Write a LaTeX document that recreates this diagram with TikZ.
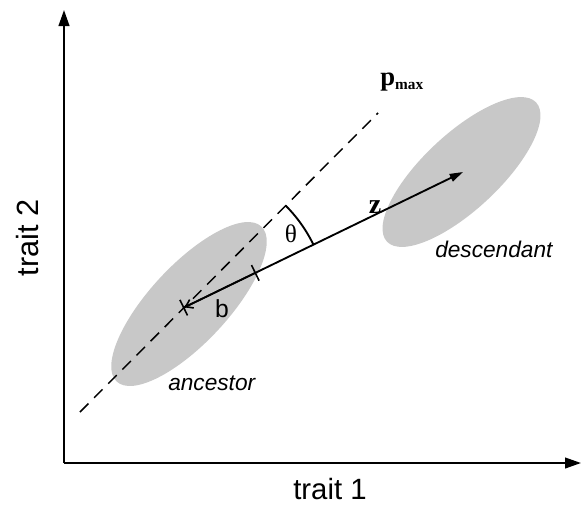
\documentclass[tikz,border=0pt]{standalone}
\usepackage{fontspec}
\setmainfont{Liberation Sans}
\newfontfamily\serifface{Liberation Serif}
\usetikzlibrary{arrows.meta,shapes.geometric}
\definecolor{blob}{RGB}{200,200,200}
\begin{document}
\begin{tikzpicture}[x=0.75pt,y=-0.75pt,
  axis/.style={line width=1.5pt,-{Triangle[length=12pt,width=8pt]}},
  dashline/.style={line width=1.1pt,dash pattern=on 9pt off 6pt},
  vec/.style={line width=1.4pt,-{Triangle[length=10pt,width=6pt]}},
  lab/.style={inner sep=0pt,font=\fontsize{17}{20}\selectfont\itshape},
  blobfill/.style={fill=blob}]
\useasboundingbox (0,0) rectangle (581,504);
% ellipses
\fill[blobfill,rotate around={47:(189,304)}] (189,304) ellipse[x radius=106,y radius=39];
\fill[blobfill,rotate around={43:(461.5,172)}] (461.5,172) ellipse[x radius=102,y radius=38];
% axes
\coordinate (O) at (64,463);
\coordinate (Ytip) at (64,10);
\coordinate (Xtip) at (581,463);
\draw[axis] (O) -- (Ytip);
\draw[axis] (O) -- (Xtip);
% dashed pmax line
\coordinate (P1) at (80,412);
\coordinate (P2) at (378,113);
\draw[dashline] (P1) -- (P2);
% vectors
\coordinate (A) at (183,308);
\coordinate (T) at (256,272.5);
\coordinate (D) at (463,172);
\draw[vec] (A) -- (D);
\draw[line width=1.2pt,{Bar[width=13pt]}-{Straight Barb[length=5pt,width=7pt,sep=0pt]Bar[width=13pt]}] (T) -- (A);
% angle arc
\draw[line width=1.4pt] (A) ++(-45:145) arc[start angle=-45,end angle=-25.9,radius=145];
% labels
\node[inner sep=0pt,anchor=base west] (pmax) at (380,85) {\serifface\bfseries\fontsize{20}{24}\selectfont p\raisebox{-3pt}{\fontsize{11.5}{12}\selectfont max}};
\node[inner sep=0pt] (theta) at (291,234) {\serifface\fontsize{19}{22}\selectfont θ};
\node[inner sep=0pt,anchor=base] (zlab) at (375,213) {\serifface\bfseries\fontsize{21}{24}\selectfont z};
\node[inner sep=0pt,anchor=base] (blab) at (222,317) {\fontsize{18.5}{22}\selectfont b};
\node[lab,anchor=base west] (anc) at (168,390) {ancestor};
\node[lab,anchor=base west] (desc) at (435,257) {descendant};
\node[inner sep=0pt,anchor=base] (t1) at (330,499) {\fontsize{22}{26}\selectfont trait 1};
\node[inner sep=0pt,anchor=base,rotate=90] (t2) at (38,238) {\fontsize{23}{26}\selectfont trait 2};
\end{tikzpicture}
\end{document}
